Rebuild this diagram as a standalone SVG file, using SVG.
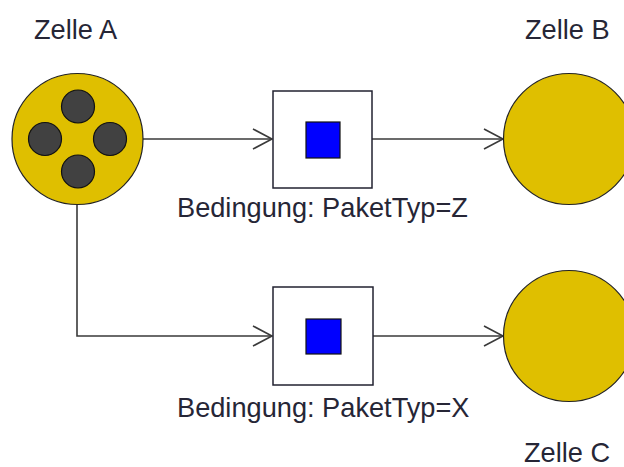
<svg xmlns="http://www.w3.org/2000/svg" width="624" height="467" viewBox="0 0 624 467">
  <style>
    .label { font-family: "Liberation Sans", Arial, sans-serif; font-size: 27.2px; fill: #262636; }
    .cell { fill: #DFBF00; stroke: #222; stroke-width: 1.2; }
    .token { fill: #414141; stroke: #111; stroke-width: 1.2; }
    .gate { fill: #fff; stroke: #222230; stroke-width: 1.5; }
    .mark { fill: #0000FF; stroke: #111; stroke-width: 1.2; }
    .link { fill: none; stroke: #3a3a3a; stroke-width: 1.6; }
  </style>
  <defs>
    <marker id="open-arrow" markerUnits="userSpaceOnUse" markerWidth="24" markerHeight="24" refX="20" refY="11" orient="auto">
      <path d="M1,1 L20,11 L1,21" fill="none" stroke="#3a3a3a" stroke-width="1.6"/>
    </marker>
  </defs>

  <rect width="624" height="467" fill="#fff"/>

  <!-- connectors -->
  <g id="connectors">
    <path class="link" d="M143,139 H272" marker-end="url(#open-arrow)"/>
    <path class="link" d="M372,139 H503" marker-end="url(#open-arrow)"/>
    <path class="link" d="M77,205 V336 H272" marker-end="url(#open-arrow)"/>
    <path class="link" d="M373,336 H503" marker-end="url(#open-arrow)"/>
  </g>

  <!-- cell A with four tokens -->
  <g id="cell-a">
    <circle class="cell" cx="77.5" cy="139" r="65.5"/>
    <circle class="token" cx="78" cy="106.5" r="16.5"/>
    <circle class="token" cx="45" cy="139" r="16.5"/>
    <circle class="token" cx="110" cy="139" r="16.5"/>
    <circle class="token" cx="78" cy="171.5" r="16.5"/>
    <text class="label" x="34" y="39">Zelle A</text>
  </g>

  <!-- cell B -->
  <g id="cell-b">
    <circle class="cell" cx="569" cy="139" r="65.5"/>
    <text class="label" x="525" y="39">Zelle B</text>
  </g>

  <!-- cell C -->
  <g id="cell-c">
    <circle class="cell" cx="569" cy="336" r="65.5"/>
    <text class="label" x="524" y="462">Zelle C</text>
  </g>

  <!-- transition with condition Z -->
  <g id="gate-z">
    <rect class="gate" x="273" y="91" width="99" height="97"/>
    <rect class="mark" x="306" y="122" width="34" height="36"/>
    <text class="label" x="177" y="217">Bedingung: PaketTyp=Z</text>
  </g>

  <!-- transition with condition X -->
  <g id="gate-x">
    <rect class="gate" x="273" y="287" width="100" height="98"/>
    <rect class="mark" x="306" y="319" width="35" height="35"/>
    <text class="label" x="177" y="417">Bedingung: PaketTyp=X</text>
  </g>
</svg>
